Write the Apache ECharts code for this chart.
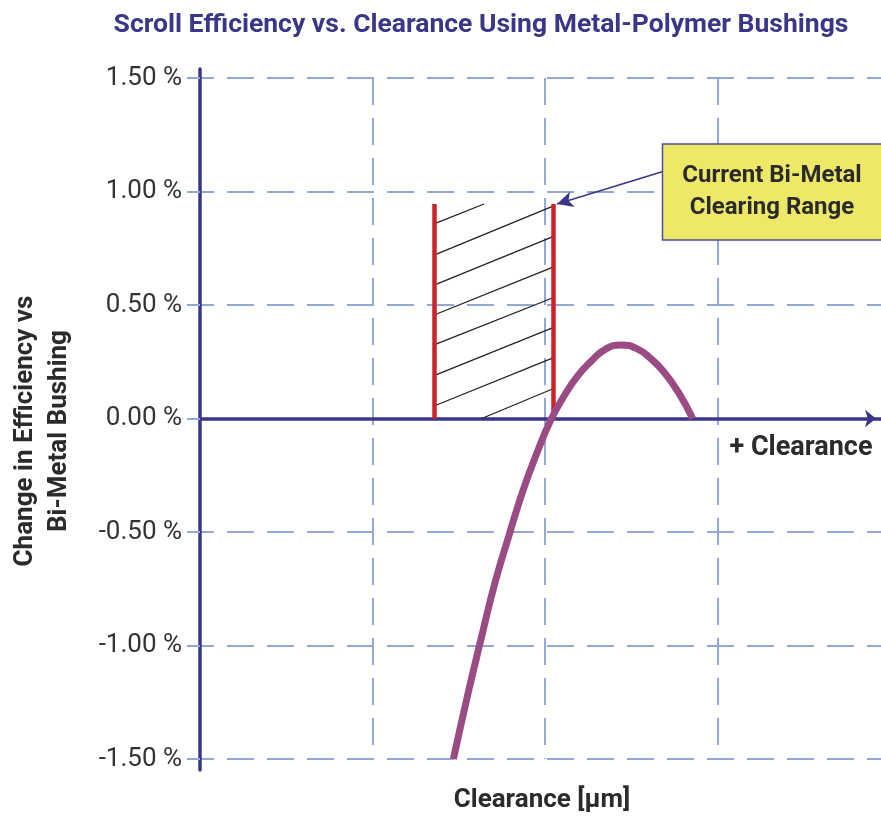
<!DOCTYPE html>
<html>
<head>
<meta charset="utf-8">
<script src="https://cdn.jsdelivr.net/npm/echarts@6/dist/echarts.min.js"></script>
<style>
  html, body { margin: 0; padding: 0; background: #fff; }
  #main { width: 881px; height: 817px; }
</style>
</head>
<body>
<div id="main"></div>
<script>
var chartDom = document.getElementById('main');
var myChart = echarts.init(chartDom);
var option;

// efficiency curve (clearance in grid units, change in %)
var curveX = [1.468, 1.55, 1.63, 1.71, 1.79, 1.87, 1.95, 2.03, 2.11, 2.19, 2.27, 2.35, 2.44, 2.53, 2.61, 2.69, 2.77, 2.854];
var curveY = [-1.5, -1.22, -0.965, -0.72, -0.515, -0.32, -0.155, -0.01, 0.1, 0.19, 0.255, 0.306, 0.324, 0.308, 0.265, 0.203, 0.117, 0];

// current bi-metal clearing range
var rangeX = [1.356, 2.045];
var rangeTop = 0.945;

// hatch segments [x1, y1, x2, y2]
var hatch = [
  [1.356, 0.857, 1.645, 0.945],
  [1.356, 0.720, 2.045, 0.936],
  [1.356, 0.588, 2.045, 0.801],
  [1.356, 0.456, 2.045, 0.667],
  [1.356, 0.324, 2.045, 0.532],
  [1.356, 0.189, 2.045, 0.400],
  [1.356, 0.055, 2.045, 0.267],
  [1.632, 0.000, 2.045, 0.131]
];

// annotation arrow [from, to]
var arrowFrom = [2.677, 1.087];
var arrowTo = [2.068, 0.945];

var yTicks = [-1.5, -1.0, -0.5, 0, 0.5, 1.0, 1.5];

var navy = '#3a3688';
var gridColor = '#93a7d8';

option = {
  animation: false,
  backgroundColor: '#fff',
  textStyle: { fontFamily: 'Roboto' },
  title: {
    text: 'Scroll Efficiency vs. Clearance Using Metal-Polymer Bushings',
    left: 476,
    top: 7,
    textAlign: 'center',
    textStyle: { color: navy, fontSize: 26.5, fontWeight: 'bold', fontFamily: 'Roboto' }
  },
  grid: [
    { left: 200, right: 0, top: 78, bottom: 58 },
    { left: 200, right: 0, top: 69, bottom: 47 }
  ],
  xAxis: [
    {
      type: 'value',
      gridIndex: 0,
      min: 0,
      max: 3.945,
      interval: 1,
      axisLine: {
        show: true,
        onZero: true,
        symbol: ['none', 'arrow'],
        symbolSize: [13, 11],
        symbolOffset: [0, -5],
        lineStyle: { color: navy, width: 3.5 }
      },
      axisTick: { show: false },
      axisLabel: { show: false },
      splitLine: {
        show: true,
        showMinLine: false,
        showMaxLine: false,
        lineStyle: { color: gridColor, width: 2, type: [27, 13] }
      }
    },
    { type: 'value', gridIndex: 1, show: false, min: 0, max: 1 }
  ],
  yAxis: [
    {
      type: 'value',
      gridIndex: 0,
      min: yTicks[0],
      max: yTicks[yTicks.length - 1],
      interval: 0.5,
      axisLine: { show: false },
      axisTick: { show: true, length: 13, lineStyle: { color: gridColor, width: 2 } },
      axisLabel: {
        margin: 18,
        fontSize: 26,
        color: '#333',
        fontFamily: 'Roboto',
        formatter: function (v) { return v.toFixed(2) + ' %'; }
      },
      splitLine: {
        show: true,
        lineStyle: { color: gridColor, width: 2, type: [27, 13], dashOffset: 13 }
      }
    },
    {
      type: 'value',
      gridIndex: 1,
      min: 0,
      max: 1,
      axisLine: { show: true, lineStyle: { color: navy, width: 3.5 } },
      axisTick: { show: false },
      axisLabel: { show: false },
      splitLine: { show: false }
    }
  ],
  series: [
    {
      name: 'hatch',
      type: 'line',
      data: [],
      markLine: {
        silent: true,
        symbol: ['none', 'none'],
        label: { show: false },
        lineStyle: { color: '#222', width: 1.3, type: 'solid' },
        data: hatch.map(function (h) {
          return [{ coord: [h[0], h[1]] }, { coord: [h[2], h[3]] }];
        })
      }
    },
    {
      name: 'range',
      type: 'line',
      data: [],
      markLine: {
        silent: true,
        symbol: ['none', 'none'],
        label: { show: false },
        lineStyle: { color: '#cc2229', width: 4.5, type: 'solid' },
        data: rangeX.map(function (x) {
          return [{ coord: [x, 0] }, { coord: [x, rangeTop] }];
        })
      }
    },
    {
      name: 'arrow',
      type: 'line',
      data: [],
      markLine: {
        silent: true,
        symbol: ['none', 'arrow'],
        symbolSize: [12, 16],
        label: { show: false },
        lineStyle: { color: navy, width: 1.5, type: 'solid' },
        data: [
          [{ coord: arrowFrom }, { coord: arrowTo }],
          // x-axis line stub left of the y-axis
          [{ coord: [-0.075, 0], symbol: 'none', lineStyle: { width: 3.5 } }, { coord: [0, 0], symbol: 'none' }]
        ]
      }
    },
    {
      name: 'efficiency',
      type: 'line',
      smooth: 0.5,
      showSymbol: false,
      z: 5,
      lineStyle: { color: '#9b4b83', width: 7 },
      data: curveX.map(function (x, i) { return [x, curveY[i]]; })
    }
  ],
  graphic: [
    {
      type: 'rect',
      shape: { x: 662.5, y: 144, width: 222, height: 96 },
      style: { fill: '#ede868', stroke: '#4b4b9c', lineWidth: 1.5 },
      z: 10
    },
    {
      type: 'text',
      x: 772,
      y: 192,
      z: 11,
      style: {
        text: 'Current Bi-Metal\nClearing Range',
        fill: '#2b2b2b',
        font: 'bold 24px Roboto',
        lineHeight: 32,
        align: 'center',
        verticalAlign: 'middle'
      }
    },
    {
      type: 'text',
      x: 801,
      y: 448,
      style: {
        text: '+ Clearance',
        fill: '#2b2b2b',
        font: 'bold 27px Roboto',
        align: 'center',
        verticalAlign: 'middle'
      }
    },
    {
      type: 'text',
      x: 542,
      y: 800,
      style: {
        text: 'Clearance [μm]',
        fill: '#2b2b2b',
        font: 'bold 26px Roboto',
        align: 'center',
        verticalAlign: 'middle'
      }
    },
    {
      type: 'text',
      x: 42,
      y: 431,
      rotation: Math.PI / 2,
      style: {
        text: 'Change in Efficiency vs\nBi-Metal Bushing',
        fill: '#2b2b2b',
        font: 'bold 26px Roboto',
        lineHeight: 34,
        align: 'center',
        verticalAlign: 'middle'
      }
    }
  ]
};

option && myChart.setOption(option);
</script>
</body>
</html>
